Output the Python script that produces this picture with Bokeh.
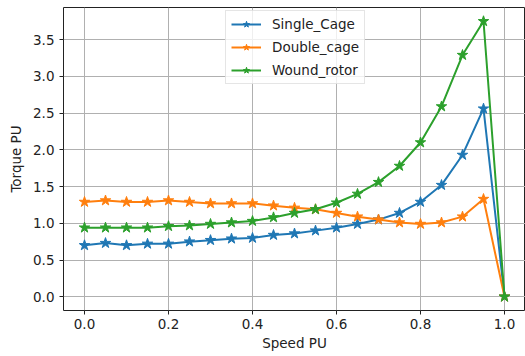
from bokeh.plotting import figure
from bokeh.models import FixedTicker, PrintfTickFormatter, Legend
from bokeh.embed import file_html
from bokeh.resources import INLINE

speed = [0.0, 0.05, 0.1, 0.15, 0.2, 0.25, 0.3, 0.35, 0.4, 0.45, 0.5,
         0.55, 0.6, 0.65, 0.7, 0.75, 0.8, 0.85, 0.9, 0.95, 1.0]
single_cage = [0.70, 0.73, 0.70, 0.72, 0.72, 0.75, 0.77, 0.79, 0.80, 0.84, 0.86,
               0.90, 0.94, 0.99, 1.05, 1.14, 1.29, 1.52, 1.93, 2.56, 0.0]
double_cage = [1.29, 1.31, 1.29, 1.29, 1.31, 1.29, 1.27, 1.27, 1.27, 1.24, 1.21,
               1.19, 1.14, 1.09, 1.05, 1.01, 0.99, 1.01, 1.09, 1.33, 0.0]
wound_rotor = [0.94, 0.94, 0.94, 0.94, 0.96, 0.97, 0.99, 1.01, 1.03, 1.08, 1.14,
               1.19, 1.28, 1.40, 1.56, 1.78, 2.10, 2.59, 3.29, 3.75, 0.0]
series = [("Single_Cage", single_cage, "#1f77b4"),
          ("Double_cage", double_cage, "#ff7f0e"),
          ("Wound_rotor", wound_rotor, "#2ca02c")]
x_ticks = [0.0, 0.2, 0.4, 0.6, 0.8, 1.0]
y_ticks = [0.0, 0.5, 1.0, 1.5, 2.0, 2.5, 3.0, 3.5]

FS = "13.5px"

p = figure(width=525, height=356, x_range=(-0.05, 1.05), y_range=(-0.1875, 3.9375),
           output_backend="svg", toolbar_location=None,
           min_border_left=63, min_border_right=0, min_border_top=7, min_border_bottom=46)
p.background_fill_color = "white"
p.border_fill_color = "white"
p.outline_line_color = "#222222"
p.outline_line_width = 1

items = []
for name, vals, col in series:
    r1 = p.line(speed, vals, line_color=col, line_width=2)
    r2 = p.scatter(speed, vals, marker="star", size=11, fill_color=col, line_color=col)
    items.append((name, [r1, r2]))

legend = Legend(items=items, location=(162, 226))
legend.label_text_font = "DejaVu Sans"
legend.label_text_font_size = FS
legend.label_text_color = "#222222"
legend.glyph_width = 30
legend.glyph_height = 16
legend.spacing = 7
legend.padding = 5
legend.margin = 0
legend.label_standoff = 11
legend.border_line_color = "#cccccc"
legend.border_line_width = 1
legend.background_fill_alpha = 0.8
p.add_layout(legend)

for ax in (p.xaxis, p.yaxis):
    ax.axis_line_color = None
    ax.major_tick_line_color = "#222222"
    ax.major_tick_out = 4
    ax.major_tick_in = 0
    ax.minor_tick_line_color = None
    ax.major_label_text_font = "DejaVu Sans"
    ax.major_label_text_font_size = FS
    ax.major_label_text_color = "#222222"
    ax.axis_label_text_font = "DejaVu Sans"
    ax.axis_label_text_font_size = FS
    ax.axis_label_text_font_style = "normal"
    ax.axis_label_text_color = "#222222"
    ax.formatter = PrintfTickFormatter(format="%.1f")

p.xaxis.ticker = FixedTicker(ticks=x_ticks)
p.yaxis.ticker = FixedTicker(ticks=y_ticks)
p.xaxis.axis_label = "Speed PU"
p.yaxis.axis_label = "Torque PU"
p.xaxis.major_label_standoff = 4
p.yaxis.major_label_standoff = 5
p.xaxis.axis_label_standoff = 3
p.yaxis.axis_label_standoff = 6

p.xgrid.ticker = FixedTicker(ticks=x_ticks)
p.ygrid.ticker = FixedTicker(ticks=y_ticks)
p.grid.grid_line_color = "#b0b0b0"
p.grid.grid_line_width = 1

open("out.html", "w").write(file_html(p, INLINE))
